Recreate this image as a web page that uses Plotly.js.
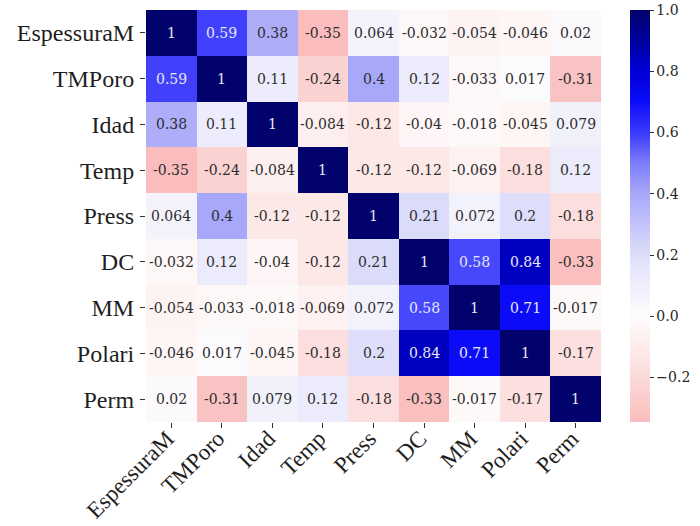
<!DOCTYPE html>
<html>
<head>
<meta charset="utf-8">
<script src="https://cdn.plot.ly/plotly-3.0.1.min.js"></script>
<style>html,body{margin:0;padding:0;background:#fff;}#chart{width:700px;height:526px;}</style>
</head>
<body>
<div id="chart"></div>
<script>
const labels = ["EspessuraM","TMPoro","Idad","Temp","Press","DC","MM","Polari","Perm"];

const rowEspessuraM = [1, 0.59, 0.38, -0.35, 0.064, -0.032, -0.054, -0.046, 0.02];
const rowTMPoro     = [0.59, 1, 0.11, -0.24, 0.4, 0.12, -0.033, 0.017, -0.31];
const rowIdad       = [0.38, 0.11, 1, -0.084, -0.12, -0.04, -0.018, -0.045, 0.079];
const rowTemp       = [-0.35, -0.24, -0.084, 1, -0.12, -0.12, -0.069, -0.18, 0.12];
const rowPress      = [0.064, 0.4, -0.12, -0.12, 1, 0.21, 0.072, 0.2, -0.18];
const rowDC         = [-0.032, 0.12, -0.04, -0.12, 0.21, 1, 0.58, 0.84, -0.33];
const rowMM         = [-0.054, -0.033, -0.018, -0.069, 0.072, 0.58, 1, 0.71, -0.017];
const rowPolari     = [-0.046, 0.017, -0.045, -0.18, 0.2, 0.84, 0.71, 1, -0.17];
const rowPerm       = [0.02, -0.31, 0.079, 0.12, -0.18, -0.33, -0.017, -0.17, 1];

const colorbarTicks = [-0.2, 0.0, 0.2, 0.4, 0.6, 0.8, 1.0];

const z = [rowEspessuraM, rowTMPoro, rowIdad, rowTemp, rowPress, rowDC, rowMM, rowPolari, rowPerm];

const zmin = -0.345, zmax = 1.0;
const stops = [
  [-0.345, 'rgb(250,188,188)'],
  [-0.2,   'rgb(252,218,218)'],
  [-0.1,   'rgb(253,236,236)'],
  [0.0,    'rgb(254,252,252)'],
  [0.1,    'rgb(238,238,252)'],
  [0.2,    'rgb(222,222,250)'],
  [0.4,    'rgb(168,168,250)'],
  [0.5,    'rgb(125,125,252)'],
  [0.6,    'rgb(58,58,252)'],
  [0.7,    'rgb(12,12,250)'],
  [0.8,    'rgb(0,0,215)'],
  [0.9,    'rgb(0,0,160)'],
  [1.0,    'rgb(2,2,108)']
];
const colorscale = stops.map(s => [(s[0]-zmin)/(zmax-zmin), s[1]]);

function fmt(v){
  let s = v.toPrecision(2);
  if (s.indexOf('.') >= 0) s = s.replace(/0+$/,'').replace(/\.$/,'');
  return s;
}

const annotations = [];
z.forEach((row, i) => {
  row.forEach((v, j) => {
    annotations.push({
      x: labels[j], y: labels[i], xref: 'x', yref: 'y',
      text: fmt(v), showarrow: false,
      font: {family: 'DejaVu Serif', size: 14, color: v > 0.5 ? 'rgb(232,232,245)' : 'rgb(45,45,45)'}
    });
  });
});

const trace = {
  type: 'heatmap',
  x: labels, y: labels, z: z,
  zmin: zmin, zmax: zmax,
  colorscale: colorscale,
  xgap: 0, ygap: 0,
  hoverinfo: 'skip',
  colorbar: {
    x: 1.063, xanchor: 'left', xpad: 0,
    y: 0.5, yanchor: 'middle', ypad: 0,
    len: 1, lenmode: 'fraction',
    thickness: 20, thicknessmode: 'pixels',
    outlinewidth: 0,
    tickmode: 'array', tickvals: colorbarTicks,
    ticktext: colorbarTicks.map(t => (t < 0 ? '\u2212' : '') + Math.abs(t).toFixed(1)),
    ticks: 'outside', ticklen: 4, tickcolor: '#333', tickwidth: 1,
    tickfont: {family: 'DejaVu Serif', size: 14, color: '#262626'}
  }
};

const layout = {
  width: 700, height: 526,
  margin: {l: 146, r: 92, t: 10, b: 104},
  paper_bgcolor: '#fff', plot_bgcolor: '#fff',
  xaxis: {
    type: 'category', tickangle: -45,
    ticks: 'outside', ticklen: 5, tickcolor: '#333', tickwidth: 1,
    ticklabelstandoff: -12, ticklabelshift: -4,
    tickfont: {family: 'Liberation Serif', size: 23, color: '#1e1e1e'},
    showgrid: false, zeroline: false, showline: false
  },
  yaxis: {
    type: 'category', autorange: 'reversed',
    ticks: 'outside', ticklen: 5, tickcolor: '#333', tickwidth: 1,
    ticklabelstandoff: 1,
    tickfont: {family: 'Liberation Serif', size: 24, color: '#1e1e1e'},
    showgrid: false, zeroline: false, showline: false
  },
  annotations: annotations
};

Plotly.newPlot('chart', [trace], layout, {displayModeBar: false, staticPlot: true});
</script>
</body>
</html>
